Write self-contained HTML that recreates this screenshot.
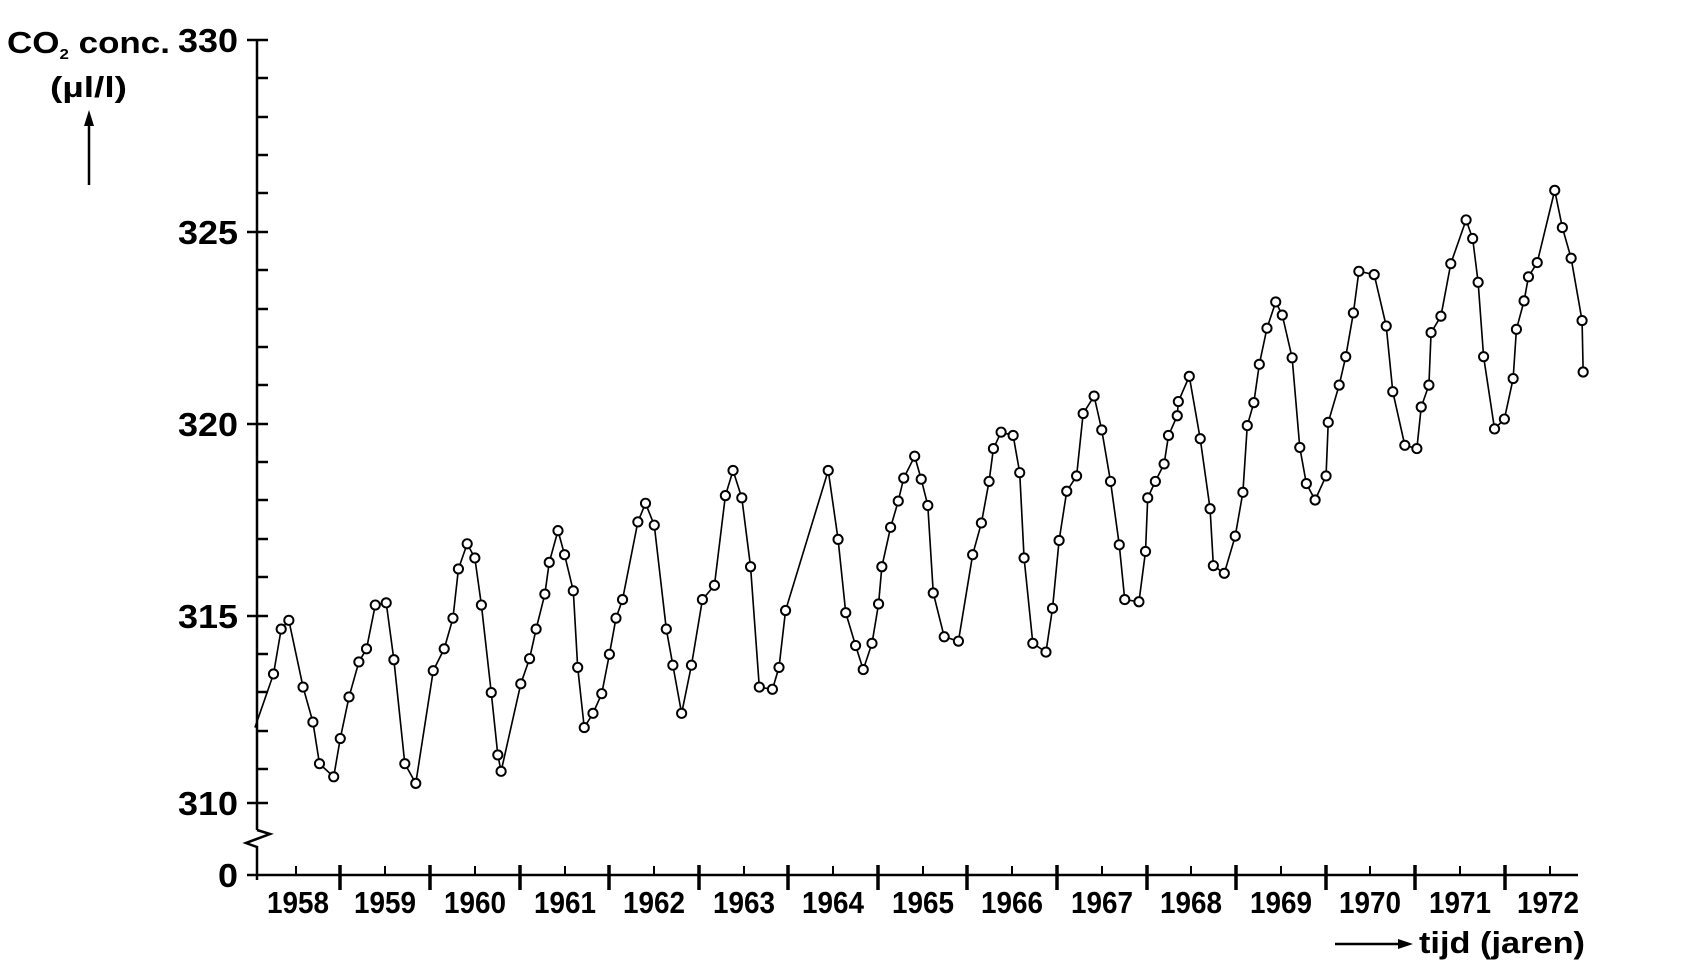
<!DOCTYPE html>
<html><head><meta charset="utf-8"><style>
html,body{margin:0;padding:0;background:#fff;}
svg{display:block;}
text{font-family:"Liberation Sans",sans-serif;font-weight:bold;fill:#000;}
</style></head><body>
<svg width="1697" height="975" viewBox="0 0 1697 975" xmlns="http://www.w3.org/2000/svg">
<g stroke="#000" stroke-width="2.5" fill="none">
<line x1="257" y1="40" x2="257" y2="830"/>
<polyline points="257,830 270,834 246,843 257,847 257,880"/>
<line x1="247" y1="40" x2="268" y2="40"/>
<line x1="257" y1="78" x2="268" y2="78"/>
<line x1="257" y1="117" x2="268" y2="117"/>
<line x1="257" y1="155" x2="268" y2="155"/>
<line x1="257" y1="193" x2="268" y2="193"/>
<line x1="247" y1="232" x2="268" y2="232"/>
<line x1="257" y1="270" x2="268" y2="270"/>
<line x1="257" y1="309" x2="268" y2="309"/>
<line x1="257" y1="347" x2="268" y2="347"/>
<line x1="257" y1="385" x2="268" y2="385"/>
<line x1="247" y1="424" x2="268" y2="424"/>
<line x1="257" y1="462" x2="268" y2="462"/>
<line x1="257" y1="500" x2="268" y2="500"/>
<line x1="257" y1="539" x2="268" y2="539"/>
<line x1="257" y1="577" x2="268" y2="577"/>
<line x1="247" y1="616" x2="268" y2="616"/>
<line x1="257" y1="654" x2="268" y2="654"/>
<line x1="257" y1="692" x2="268" y2="692"/>
<line x1="257" y1="731" x2="268" y2="731"/>
<line x1="257" y1="769" x2="268" y2="769"/>
<line x1="247" y1="803" x2="268" y2="803"/>
<line x1="247" y1="875" x2="257" y2="875"/>
<line x1="257" y1="875" x2="1578" y2="875"/>
</g>
<g stroke="#000" stroke-width="3.5">
<line x1="340" y1="865" x2="340" y2="890"/><line x1="430" y1="865" x2="430" y2="890"/>
<line x1="520" y1="865" x2="520" y2="890"/><line x1="609" y1="865" x2="609" y2="890"/>
<line x1="699" y1="865" x2="699" y2="890"/><line x1="788" y1="865" x2="788" y2="890"/>
<line x1="878" y1="865" x2="878" y2="890"/><line x1="967" y1="865" x2="967" y2="890"/>
<line x1="1057" y1="865" x2="1057" y2="890"/><line x1="1147" y1="865" x2="1147" y2="890"/>
<line x1="1236" y1="865" x2="1236" y2="890"/><line x1="1326" y1="865" x2="1326" y2="890"/>
<line x1="1415" y1="865" x2="1415" y2="890"/><line x1="1505" y1="865" x2="1505" y2="890"/>
</g>
<g stroke="#000" stroke-width="2">
<line x1="296" y1="866" x2="296" y2="875"/><line x1="385" y1="866" x2="385" y2="875"/>
<line x1="475" y1="866" x2="475" y2="875"/><line x1="565" y1="866" x2="565" y2="875"/>
<line x1="654" y1="866" x2="654" y2="875"/><line x1="744" y1="866" x2="744" y2="875"/>
<line x1="833" y1="866" x2="833" y2="875"/><line x1="923" y1="866" x2="923" y2="875"/>
<line x1="1012" y1="866" x2="1012" y2="875"/><line x1="1102" y1="866" x2="1102" y2="875"/>
<line x1="1191" y1="866" x2="1191" y2="875"/><line x1="1281" y1="866" x2="1281" y2="875"/>
<line x1="1370" y1="866" x2="1370" y2="875"/><line x1="1460" y1="866" x2="1460" y2="875"/>
<line x1="1550" y1="866" x2="1550" y2="875"/>
</g>
<g font-size="33" text-anchor="end">
<text x="238" y="52" textLength="60" lengthAdjust="spacingAndGlyphs">330</text>
<text x="238" y="244" textLength="60" lengthAdjust="spacingAndGlyphs">325</text>
<text x="238" y="436" textLength="60" lengthAdjust="spacingAndGlyphs">320</text>
<text x="238" y="628" textLength="60" lengthAdjust="spacingAndGlyphs">315</text>
<text x="238" y="815" textLength="60" lengthAdjust="spacingAndGlyphs">310</text>
<text x="238" y="887" textLength="20" lengthAdjust="spacingAndGlyphs">0</text>
</g>
<text x="7" y="53" font-size="31" textLength="163" lengthAdjust="spacingAndGlyphs">CO<tspan font-size="15" dy="6">2</tspan><tspan dy="-6"> conc.</tspan></text>
<text x="50" y="97" font-size="29" textLength="77" lengthAdjust="spacingAndGlyphs">(µl/l)</text>
<g stroke="#000" stroke-width="2.5"><line x1="89" y1="185" x2="89" y2="122"/></g>
<polygon points="89,110 84,126 94,126" fill="#000"/>
<g font-size="31" text-anchor="middle">
<text x="298" y="913" textLength="62" lengthAdjust="spacingAndGlyphs">1958</text>
<text x="385" y="913" textLength="62" lengthAdjust="spacingAndGlyphs">1959</text>
<text x="475" y="913" textLength="62" lengthAdjust="spacingAndGlyphs">1960</text>
<text x="565" y="913" textLength="62" lengthAdjust="spacingAndGlyphs">1961</text>
<text x="654" y="913" textLength="62" lengthAdjust="spacingAndGlyphs">1962</text>
<text x="744" y="913" textLength="62" lengthAdjust="spacingAndGlyphs">1963</text>
<text x="833" y="913" textLength="62" lengthAdjust="spacingAndGlyphs">1964</text>
<text x="923" y="913" textLength="62" lengthAdjust="spacingAndGlyphs">1965</text>
<text x="1012" y="913" textLength="62" lengthAdjust="spacingAndGlyphs">1966</text>
<text x="1102" y="913" textLength="62" lengthAdjust="spacingAndGlyphs">1967</text>
<text x="1191" y="913" textLength="62" lengthAdjust="spacingAndGlyphs">1968</text>
<text x="1281" y="913" textLength="62" lengthAdjust="spacingAndGlyphs">1969</text>
<text x="1370" y="913" textLength="62" lengthAdjust="spacingAndGlyphs">1970</text>
<text x="1460" y="913" textLength="62" lengthAdjust="spacingAndGlyphs">1971</text>
<text x="1548" y="913" textLength="62" lengthAdjust="spacingAndGlyphs">1972</text>
</g>
<g stroke="#000" stroke-width="2.5"><line x1="1335" y1="944" x2="1400" y2="944"/></g>
<polygon points="1413,944 1398,939 1398,949" fill="#000"/>
<text x="1419" y="953" font-size="31" textLength="166" lengthAdjust="spacingAndGlyphs">tijd (jaren)</text>
<g transform="scale(1.0941)">
<polyline fill="none" stroke="#000" stroke-width="1.5" points="233,665 250,616 257,575 264,567 277,628 286,660 292,698 305,710 311,675 319,637 328,605 335,593 343,553 353,551 360,603 370,698 380,716 396,613 406,593 414,565 419,520 427,497 434,510 440,553 449,633 455,690 458,705 476,625 484,602 490,575 498,543 502,514 510,485 516,507 524,540 528,610 534,665 542,652 550,634 557,598 563,565 569,548 583,477 590,460 598,480 609,575 615,608 623,652 632,608 642,548 653,535 663,453 670,430 678,455 686,518 694,628 706,630 712,610 718,558 757,430 766,493 773,560 782,590 789,612 797,588 803,552 806,518 814,482 821,458 826,437 836,417 842,438 848,462 853,542 863,582 876,586 889,507 897,478 904,440 908,410 915,395 926,398 932,432 936,510 944,588 956,596 962,556 968,494 975,449 984,435 990,378 1000,362 1007,393 1015,440 1023,498 1028,548 1041,550 1047,504 1049,455 1056,440 1064,424 1068,398 1076,380 1077,367 1087,344 1097,401 1106,465 1109,517 1119,524 1129,490 1136,450 1140,389 1146,368 1151,333 1158,300 1166,276 1172,288 1181,327 1188,409 1194,442 1202,457 1212,435 1214,386 1224,352 1230,326 1237,286 1242,248 1256,251 1267,298 1273,358 1284,407 1295,410 1299,372 1306,352 1308,304 1317,289 1326,241 1340,201 1346,218 1351,258 1356,326 1366,392 1375,383 1383,346 1386,301 1393,275 1397,253 1405,240 1421,174 1428,208 1436,236 1446,293 1447,340"/>
<g fill="#fff" stroke="#000" stroke-width="1.8">
<circle cx="250" cy="616" r="4.2"/><circle cx="257" cy="575" r="4.2"/><circle cx="264" cy="567" r="4.2"/><circle cx="277" cy="628" r="4.2"/><circle cx="286" cy="660" r="4.2"/><circle cx="292" cy="698" r="4.2"/><circle cx="305" cy="710" r="4.2"/><circle cx="311" cy="675" r="4.2"/><circle cx="319" cy="637" r="4.2"/><circle cx="328" cy="605" r="4.2"/><circle cx="335" cy="593" r="4.2"/><circle cx="343" cy="553" r="4.2"/><circle cx="353" cy="551" r="4.2"/><circle cx="360" cy="603" r="4.2"/><circle cx="370" cy="698" r="4.2"/><circle cx="380" cy="716" r="4.2"/><circle cx="396" cy="613" r="4.2"/><circle cx="406" cy="593" r="4.2"/><circle cx="414" cy="565" r="4.2"/><circle cx="419" cy="520" r="4.2"/><circle cx="427" cy="497" r="4.2"/><circle cx="434" cy="510" r="4.2"/><circle cx="440" cy="553" r="4.2"/><circle cx="449" cy="633" r="4.2"/><circle cx="455" cy="690" r="4.2"/><circle cx="458" cy="705" r="4.2"/><circle cx="476" cy="625" r="4.2"/><circle cx="484" cy="602" r="4.2"/><circle cx="490" cy="575" r="4.2"/><circle cx="498" cy="543" r="4.2"/><circle cx="502" cy="514" r="4.2"/><circle cx="510" cy="485" r="4.2"/><circle cx="516" cy="507" r="4.2"/><circle cx="524" cy="540" r="4.2"/><circle cx="528" cy="610" r="4.2"/><circle cx="534" cy="665" r="4.2"/><circle cx="542" cy="652" r="4.2"/><circle cx="550" cy="634" r="4.2"/><circle cx="557" cy="598" r="4.2"/><circle cx="563" cy="565" r="4.2"/><circle cx="569" cy="548" r="4.2"/><circle cx="583" cy="477" r="4.2"/><circle cx="590" cy="460" r="4.2"/><circle cx="598" cy="480" r="4.2"/><circle cx="609" cy="575" r="4.2"/><circle cx="615" cy="608" r="4.2"/><circle cx="623" cy="652" r="4.2"/><circle cx="632" cy="608" r="4.2"/><circle cx="642" cy="548" r="4.2"/><circle cx="653" cy="535" r="4.2"/><circle cx="663" cy="453" r="4.2"/><circle cx="670" cy="430" r="4.2"/><circle cx="678" cy="455" r="4.2"/><circle cx="686" cy="518" r="4.2"/><circle cx="694" cy="628" r="4.2"/><circle cx="706" cy="630" r="4.2"/><circle cx="712" cy="610" r="4.2"/><circle cx="718" cy="558" r="4.2"/><circle cx="757" cy="430" r="4.2"/><circle cx="766" cy="493" r="4.2"/><circle cx="773" cy="560" r="4.2"/><circle cx="782" cy="590" r="4.2"/><circle cx="789" cy="612" r="4.2"/><circle cx="797" cy="588" r="4.2"/><circle cx="803" cy="552" r="4.2"/><circle cx="806" cy="518" r="4.2"/><circle cx="814" cy="482" r="4.2"/><circle cx="821" cy="458" r="4.2"/><circle cx="826" cy="437" r="4.2"/><circle cx="836" cy="417" r="4.2"/><circle cx="842" cy="438" r="4.2"/><circle cx="848" cy="462" r="4.2"/><circle cx="853" cy="542" r="4.2"/><circle cx="863" cy="582" r="4.2"/><circle cx="876" cy="586" r="4.2"/><circle cx="889" cy="507" r="4.2"/><circle cx="897" cy="478" r="4.2"/><circle cx="904" cy="440" r="4.2"/><circle cx="908" cy="410" r="4.2"/><circle cx="915" cy="395" r="4.2"/><circle cx="926" cy="398" r="4.2"/><circle cx="932" cy="432" r="4.2"/><circle cx="936" cy="510" r="4.2"/><circle cx="944" cy="588" r="4.2"/><circle cx="956" cy="596" r="4.2"/><circle cx="962" cy="556" r="4.2"/><circle cx="968" cy="494" r="4.2"/><circle cx="975" cy="449" r="4.2"/><circle cx="984" cy="435" r="4.2"/><circle cx="990" cy="378" r="4.2"/><circle cx="1000" cy="362" r="4.2"/><circle cx="1007" cy="393" r="4.2"/><circle cx="1015" cy="440" r="4.2"/><circle cx="1023" cy="498" r="4.2"/><circle cx="1028" cy="548" r="4.2"/><circle cx="1041" cy="550" r="4.2"/><circle cx="1047" cy="504" r="4.2"/><circle cx="1049" cy="455" r="4.2"/><circle cx="1056" cy="440" r="4.2"/><circle cx="1064" cy="424" r="4.2"/><circle cx="1068" cy="398" r="4.2"/><circle cx="1076" cy="380" r="4.2"/><circle cx="1077" cy="367" r="4.2"/><circle cx="1087" cy="344" r="4.2"/><circle cx="1097" cy="401" r="4.2"/><circle cx="1106" cy="465" r="4.2"/><circle cx="1109" cy="517" r="4.2"/><circle cx="1119" cy="524" r="4.2"/><circle cx="1129" cy="490" r="4.2"/><circle cx="1136" cy="450" r="4.2"/><circle cx="1140" cy="389" r="4.2"/><circle cx="1146" cy="368" r="4.2"/><circle cx="1151" cy="333" r="4.2"/><circle cx="1158" cy="300" r="4.2"/><circle cx="1166" cy="276" r="4.2"/><circle cx="1172" cy="288" r="4.2"/><circle cx="1181" cy="327" r="4.2"/><circle cx="1188" cy="409" r="4.2"/><circle cx="1194" cy="442" r="4.2"/><circle cx="1202" cy="457" r="4.2"/><circle cx="1212" cy="435" r="4.2"/><circle cx="1214" cy="386" r="4.2"/><circle cx="1224" cy="352" r="4.2"/><circle cx="1230" cy="326" r="4.2"/><circle cx="1237" cy="286" r="4.2"/><circle cx="1242" cy="248" r="4.2"/><circle cx="1256" cy="251" r="4.2"/><circle cx="1267" cy="298" r="4.2"/><circle cx="1273" cy="358" r="4.2"/><circle cx="1284" cy="407" r="4.2"/><circle cx="1295" cy="410" r="4.2"/><circle cx="1299" cy="372" r="4.2"/><circle cx="1306" cy="352" r="4.2"/><circle cx="1308" cy="304" r="4.2"/><circle cx="1317" cy="289" r="4.2"/><circle cx="1326" cy="241" r="4.2"/><circle cx="1340" cy="201" r="4.2"/><circle cx="1346" cy="218" r="4.2"/><circle cx="1351" cy="258" r="4.2"/><circle cx="1356" cy="326" r="4.2"/><circle cx="1366" cy="392" r="4.2"/><circle cx="1375" cy="383" r="4.2"/><circle cx="1383" cy="346" r="4.2"/><circle cx="1386" cy="301" r="4.2"/><circle cx="1393" cy="275" r="4.2"/><circle cx="1397" cy="253" r="4.2"/><circle cx="1405" cy="240" r="4.2"/><circle cx="1421" cy="174" r="4.2"/><circle cx="1428" cy="208" r="4.2"/><circle cx="1436" cy="236" r="4.2"/><circle cx="1446" cy="293" r="4.2"/><circle cx="1447" cy="340" r="4.2"/>
</g>
</g>
</svg>
</body></html>
